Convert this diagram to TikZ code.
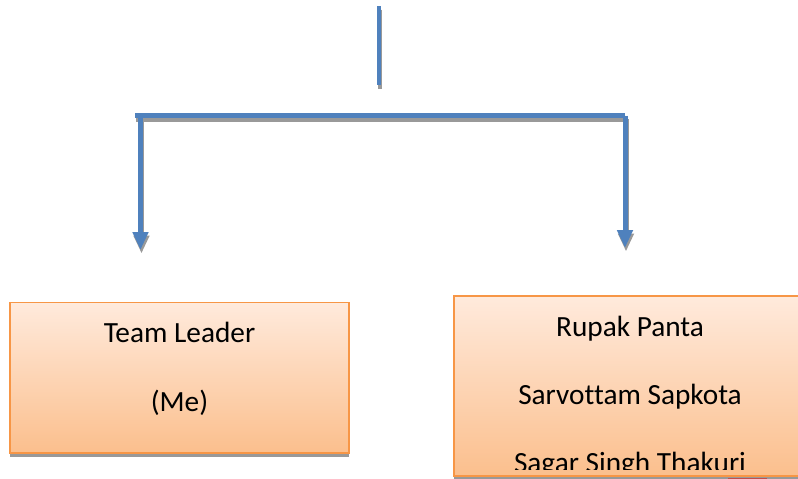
\documentclass[tikz,border=0pt]{standalone}
\usepackage{fontspec}
\setmainfont{Carlito}[Ligatures=CommonOff]
\usetikzlibrary{arrows.meta,shadows}

\definecolor{linkblue}{HTML}{4F81BD}
\definecolor{shadowgray}{HTML}{999999}
\definecolor{boxedge}{HTML}{F79646}
\definecolor{boxtop}{HTML}{FFEADC}
\definecolor{boxbottom}{HTML}{FBBF8D}
\definecolor{markred}{HTML}{C0504D}

\tikzset{
  orgbox/.style={rectangle, draw=boxedge, line width=1.4pt,
    top color=boxtop, bottom color=boxbottom, inner sep=0pt,
    drop shadow={shadow xshift=0pt, shadow yshift=-3.5pt,
      fill=shadowgray, opacity=1}},
  nametext/.style={anchor=base, inner sep=0pt, text=black,
    font=\fontsize{29.3}{35}\selectfont},
  linkline/.style={draw=linkblue, fill=linkblue, line width=5pt},
  shadeline/.style={draw=shadowgray, fill=shadowgray, line width=5pt},
  droptip/.style={-{Triangle[width=15pt,length=18pt]}},
}

\begin{document}
\begin{tikzpicture}[x=1pt,y=-1pt]
  \useasboundingbox (0,0) rectangle (798,479);

  % connector end points
  \coordinate (stemtop) at (379,6);
  \coordinate (stemend) at (379,85);
  \coordinate (barleft) at (135,115.5);
  \coordinate (leftdrop) at (140.5,115.5);
  \coordinate (barright) at (625,115.5);
  \coordinate (lefttip) at (140.5,250);
  \coordinate (righttip) at (625,248);

  % gray shadows of the connectors, drawn first
  \draw[shadeline, line width=4.5pt, transform canvas={xshift=1pt, yshift=-3.5pt}] (stemtop) -- (stemend);
  \draw[shadeline, transform canvas={xshift=1pt, yshift=-3.5pt}] (barleft) -- (barright);
  \draw[shadeline, droptip, transform canvas={xshift=1pt, yshift=-3.5pt}] (leftdrop) -- (lefttip);
  \draw[shadeline, droptip, transform canvas={xshift=1pt, yshift=-3.5pt}] (barright) -- (righttip);

  % connectors
  \draw[linkline, line width=4.5pt] (stemtop) -- (stemend);
  \draw[linkline] (barleft) -- (barright);
  \draw[linkline, droptip] (leftdrop) -- (lefttip);
  \draw[linkline, droptip] (barright) -- (righttip);

  % team leader box
  \node[orgbox, minimum width=339pt, minimum height=150.5pt] (lead) at (179.5,377.75) {};
  \node[nametext] (leadname) at (179.5,342) {Team Leader};
  \node[nametext] (leadnote) at (179.5,411) {(Me)};

  % members box
  \node[orgbox, minimum width=351pt, minimum height=180pt] (crew) at (629.5,386) {};
  \begin{scope}
    \clip (crew.north west) rectangle ([yshift=7pt]crew.south east);
    \node[nametext] (memberA) at (630,336) {Rupak Panta};
    \node[nametext] (memberB) at (630,404) {Sarvottam Sapkota};
    \node[nametext] (memberC) at (630,472) {Sagar Singh Thakuri};
  \end{scope}

  % small red mark under the members box
  \fill[markred] (728,477.5) rectangle (767,479);
\end{tikzpicture}
\end{document}
